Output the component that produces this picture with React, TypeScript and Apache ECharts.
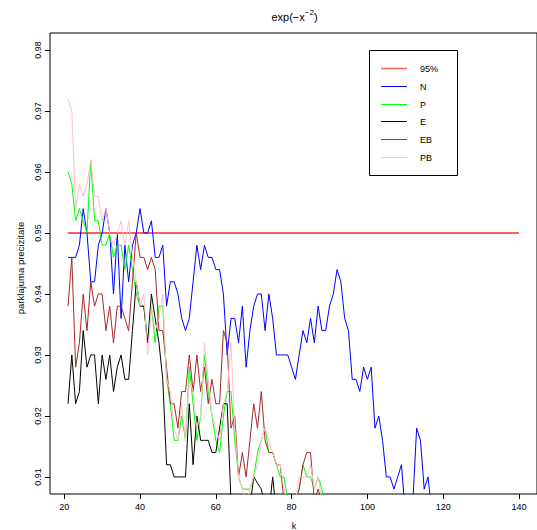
import React, { useEffect, useRef } from "react";
import * as echarts from "echarts";

// k runs over consecutive integers; each value array starts at FIRST_K.
const FIRST_K = 21;
const LAST_K = 140;
const NOMINAL = 0.95;

const xTicks = [20, 40, 60, 80, 100, 120, 140];
const yTicks = [0.91, 0.92, 0.93, 0.94, 0.95, 0.96, 0.97, 0.98];

// coverage accuracy, method N
const valuesN = [
  0.946, 0.946, 0.946, 0.948, 0.954, 0.95, 0.942, 0.942, 0.948, 0.95,
  0.954, 0.95, 0.94, 0.95, 0.936, 0.948, 0.942, 0.948, 0.95, 0.954,
  0.95, 0.95, 0.952, 0.946, 0.946, 0.948, 0.938, 0.942, 0.942, 0.94,
  0.936, 0.934, 0.936, 0.942, 0.948, 0.944, 0.948, 0.946, 0.946, 0.944,
  0.944, 0.94, 0.93, 0.936, 0.936, 0.932, 0.938, 0.928, 0.934, 0.938,
  0.94, 0.94, 0.934, 0.94, 0.936, 0.93, 0.93, 0.93, 0.93, 0.928,
  0.926, 0.93, 0.934, 0.932, 0.936, 0.932, 0.938, 0.934, 0.934, 0.938,
  0.94, 0.944, 0.942, 0.936, 0.934, 0.926, 0.926, 0.924, 0.928, 0.926,
  0.928, 0.918, 0.92, 0.916, 0.91, 0.91, 0.908, 0.91, 0.912, 0.904,
  0.902, 0.906, 0.918, 0.916, 0.908, 0.91, 0.904,
];

// method P
const valuesP = [
  0.96, 0.958, 0.952, 0.954, 0.952, 0.95, 0.962, 0.952, 0.952, 0.948,
  0.948, 0.95, 0.946, 0.948, 0.948, 0.944, 0.948, 0.944, 0.94, 0.938,
  0.938, 0.932, 0.938, 0.932, 0.938, 0.938, 0.926, 0.922, 0.916, 0.916,
  0.92, 0.916, 0.928, 0.922, 0.916, 0.92, 0.93, 0.924, 0.92, 0.916,
  0.914, 0.92, 0.924, 0.924, 0.916, 0.91, 0.908, 0.908, 0.908, 0.91,
  0.914, 0.916, 0.918, 0.914, 0.914, 0.912, 0.91, 0.91, 0.906, 0.904,
  0.906, 0.908, 0.912, 0.91, 0.91, 0.908, 0.91, 0.908, 0.904,
];

// method E
const valuesE = [
  0.922, 0.93, 0.922, 0.924, 0.934, 0.928, 0.93, 0.93, 0.922, 0.93,
  0.926, 0.93, 0.924, 0.928, 0.93, 0.926, 0.926, 0.934, 0.942, 0.938,
  0.938, 0.932, 0.94, 0.936, 0.932, 0.926, 0.912, 0.912, 0.91, 0.91,
  0.91, 0.91, 0.922, 0.912, 0.92, 0.916, 0.916, 0.916, 0.914, 0.914,
  0.918, 0.922, 0.922, 0.906, 0.902, 0.9, 0.902, 0.904, 0.905, 0.91,
  0.909, 0.908, 0.905, 0.904, 0.91, 0.904,
];

// method EB
const valuesEB = [
  0.938, 0.946, 0.928, 0.932, 0.94, 0.934, 0.942, 0.938, 0.94, 0.94,
  0.934, 0.938, 0.932, 0.938, 0.938, 0.936, 0.934, 0.942, 0.95, 0.946,
  0.946, 0.944, 0.946, 0.944, 0.934, 0.934, 0.928, 0.922, 0.922, 0.918,
  0.924, 0.924, 0.93, 0.924, 0.93, 0.924, 0.928, 0.922, 0.926, 0.922,
  0.922, 0.934, 0.932, 0.918, 0.92, 0.91, 0.914, 0.91, 0.916, 0.922,
  0.918, 0.924, 0.916, 0.914, 0.914, 0.912, 0.912, 0.906, 0.904, 0.904,
  0.906, 0.908, 0.912, 0.914, 0.914, 0.906, 0.908, 0.906, 0.902,
];

// method PB
const valuesPB = [
  0.972, 0.97, 0.954, 0.958, 0.956, 0.958, 0.962, 0.956, 0.956, 0.952,
  0.954, 0.95, 0.948, 0.95, 0.952, 0.948, 0.952, 0.946, 0.942, 0.938,
  0.94, 0.93, 0.938, 0.934, 0.936, 0.94, 0.926, 0.924, 0.918, 0.916,
  0.922, 0.916, 0.926, 0.924, 0.918, 0.92, 0.932, 0.926, 0.92, 0.918,
  0.916, 0.922, 0.924, 0.932, 0.918, 0.91, 0.908, 0.906, 0.908, 0.91,
  0.912, 0.916, 0.918, 0.916, 0.914, 0.912, 0.912, 0.908, 0.906, 0.904,
  0.906, 0.91, 0.91, 0.91, 0.912, 0.908, 0.91, 0.906, 0.904,
];

const FONT = "'Liberation Sans', Arial, Helvetica, sans-serif";

const methods = [
  { name: "N", color: "#0000ff", values: valuesN },
  { name: "P", color: "#00ff00", values: valuesP },
  { name: "E", color: "#000000", values: valuesE },
  { name: "EB", color: "#a52a2a", values: valuesEB },
  { name: "PB", color: "#ffc0cb", values: valuesPB },
];
const nominalStyle = { name: "95%", color: "#ff5c5c" };

const legendEntries = [nominalStyle, ...methods];

function buildOption() {
  const grid = { left: 50, top: 33, width: 488, height: 461 };

  const series: any[] = [
    {
      type: "line",
      name: nominalStyle.name,
      data: [
        [FIRST_K, NOMINAL],
        [LAST_K, NOMINAL],
      ],
      symbol: "none",
      silent: true,
      lineStyle: { color: nominalStyle.color, width: 2 },
    },
    ...methods.map((m) => ({
      type: "line",
      name: m.name,
      data: m.values.map((v, i) => [FIRST_K + i, v]),
      symbol: "none",
      silent: true,
      clip: true,
      lineStyle: { color: m.color, width: 1, join: "round" },
    })),
  ];

  // legend box drawn as graphic elements
  const boxX = 369;
  const boxY = 50;
  const rowY0 = 67.7;
  const rowGap = 17.9;
  const legendGraphics: any[] = [
    {
      type: "rect",
      shape: { x: boxX + 0.5, y: boxY + 0.5, width: 88, height: 125 },
      style: { fill: "#fff", stroke: "#000", lineWidth: 1 },
      z: 100,
    },
  ];
  legendEntries.forEach((e, i) => {
    const y = rowY0 + i * rowGap;
    const lineY = Math.round(y) + 0.5;
    legendGraphics.push({
      type: "line",
      shape: { x1: 381, y1: lineY, x2: 407, y2: lineY },
      style: { stroke: e.color, lineWidth: e === nominalStyle ? 1.5 : 1 },
      z: 101,
    });
    legendGraphics.push({
      type: "text",
      x: 420,
      y: lineY,
      style: {
        text: e.name,
        fontSize: 9,
        fontFamily: FONT,
        fill: "#000",
        align: "left",
        verticalAlign: "middle",
      },
      z: 101,
    });
  });

  return {
    animation: false,
    backgroundColor: "#fff",
    grid: { ...grid, show: true, borderColor: "#000", borderWidth: 1, backgroundColor: "transparent" },
    xAxis: {
      type: "value",
      min: 16.24,
      max: 144.76,
      axisLine: { show: false },
      splitLine: { show: false },
      axisTick: {
        show: true,
        customValues: xTicks,
        length: 5,
        lineStyle: { color: "#000", width: 1 },
      },
      axisLabel: {
        customValues: xTicks,
        fontSize: 9,
        fontFamily: FONT,
        color: "#000",
        margin: 8,
        formatter: (v: number) => String(v),
      },
    },
    yAxis: {
      type: "value",
      min: 0.9072,
      max: 0.9828,
      axisLine: { show: false },
      splitLine: { show: false },
      axisTick: {
        show: true,
        customValues: yTicks,
        length: 5,
        lineStyle: { color: "#000", width: 1 },
      },
      axisLabel: {
        customValues: yTicks,
        fontSize: 9,
        fontFamily: FONT,
        color: "#000",
        rotate: 90,
        margin: 8,
        formatter: (v: number) => v.toFixed(2),
      },
    },
    series,
    graphic: [
      {
        type: "text",
        x: 294.5,
        y: 17,
        style: {
          text: "{a|exp(−x}{s|−2}{a|)}",
          align: "center",
          verticalAlign: "middle",
          fontFamily: FONT,
          fill: "#000",
          rich: {
            a: { fontSize: 11, lineHeight: 18, fontFamily: FONT, fill: "#000" },
            s: { fontSize: 8, lineHeight: 8, verticalAlign: "top", fontFamily: FONT, fill: "#000" },
          },
        },
      },
      {
        type: "text",
        x: 294,
        y: 525.5,
        style: {
          text: "k",
          fontSize: 9,
          fontFamily: FONT,
          fill: "#000",
          align: "center",
          verticalAlign: "middle",
        },
      },
      {
        type: "text",
        x: 20,
        y: 268,
        rotation: Math.PI / 2,
        style: {
          text: "parklajuma precizitate",
          fontSize: 9.5,
          fontFamily: FONT,
          fill: "#000",
          align: "center",
          verticalAlign: "middle",
        },
      },
      ...legendGraphics,
    ],
  };
}

export default function App() {
  const ref = useRef<HTMLDivElement>(null);

  useEffect(() => {
    if (!ref.current) return;
    const chart = echarts.init(ref.current, null, { renderer: "svg" });
    chart.setOption(buildOption() as any);
    return () => chart.dispose();
  }, []);

  return (
    <div
      ref={ref}
      style={{
        position: "fixed",
        left: 0,
        top: 0,
        width: 537,
        height: 530,
        background: "#fff",
      }}
    />
  );
}
